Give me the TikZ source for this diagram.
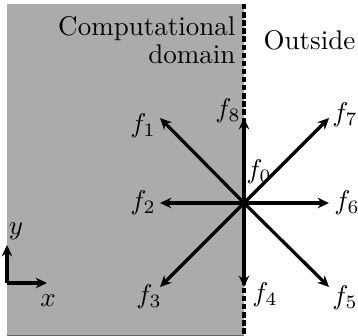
\documentclass[tikz,border=0pt]{standalone}
\usetikzlibrary{arrows.meta}
\begin{document}
\begin{tikzpicture}[x=0.37pt,y=-0.37pt,
  vec/.style={line width=1.2pt,-{Stealth[length=4.2pt,width=3.9pt]}},
  lbl/.style={inner sep=0pt},
  bnd/.style={line width=1.2pt,dash pattern=on 2pt off 1pt}]
\useasboundingbox (0,0) rectangle (358,336);
\fill[black!33] (7,4) rectangle (244,336);
\draw[black!60,line width=0.4pt] (7,335.5) -- (244,335.5);
\coordinate (top) at (244,4);
\coordinate (bot) at (244,336);
\draw[bnd] (top) -- (bot);
\node[inner sep=0pt] (c) at (244,203) {};
\fill (c) circle (1.5pt);
\coordinate (t1) at (160,118);
\coordinate (t2) at (160,203);
\coordinate (t3) at (160,287);
\coordinate (t4) at (244,287);
\coordinate (t5) at (329,287);
\coordinate (t6) at (329,203);
\coordinate (t7) at (329,118);
\coordinate (t8) at (244,118);
\foreach \i in {1,...,8} \draw[vec] (c.center) -- (t\i);
\node[lbl] (l1) at (143,126) {$f_1$};
\node[lbl] (l2) at (143,203) {$f_2$};
\node[lbl] (l3) at (149,297) {$f_3$};
\node[lbl] (l4) at (265,295) {$f_4$};
\node[lbl] (l5) at (345,298) {$f_5$};
\node[lbl] (l6) at (347,203) {$f_6$};
\node[lbl] (l7) at (345,115) {$f_7$};
\node[lbl] (l8) at (228,111) {$f_8$};
\node[lbl] (l0) at (259,172) {$f_0$};
\node[lbl,anchor=base east] (cd1) at (236,36) {Computational};
\node[lbl,anchor=base east] (cd2) at (236,64) {domain};
\node[lbl,anchor=base west] (out) at (263,50) {Outside};
\coordinate (o) at (7,283);
\coordinate (ax) at (47,283);
\coordinate (ay) at (7,245);
\draw[vec] (o) -- (ax);
\draw[vec] (o) -- (ay);
\node[lbl] (xl) at (48,301) {$x$};
\node[lbl] (yl) at (16,231) {$y$};
\end{tikzpicture}
\end{document}
